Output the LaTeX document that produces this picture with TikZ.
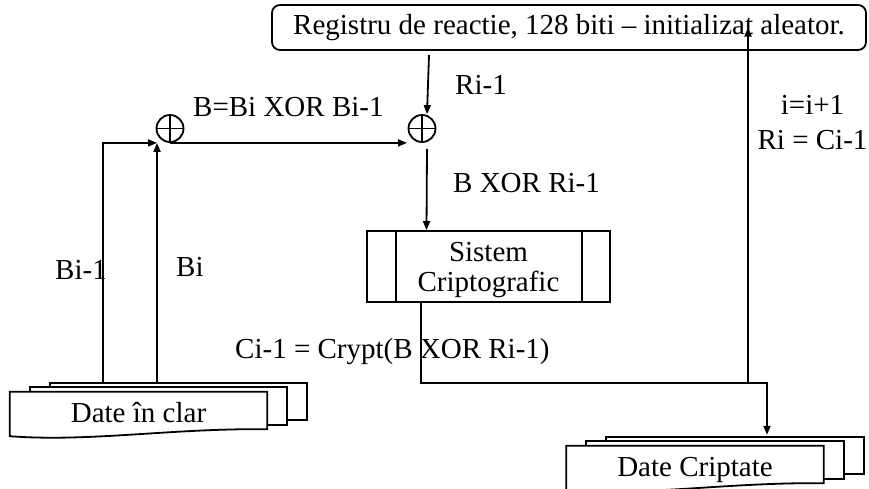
\documentclass[tikz,border=0pt]{standalone}
\usepackage{fontspec}
\setmainfont{Liberation Serif}
\usetikzlibrary{calc,arrows.meta,backgrounds}
\tikzset{
  base/.style={draw=black, line width=1.8pt},
  arr/.style={base, -{Triangle[length=9pt,width=7pt]}},
  lab/.style={font=\fontsize{29}{35}\selectfont, inner sep=0pt, anchor=base west},
  xorn/.style={circle, base, minimum size=27pt, inner sep=0pt,
    path picture={\draw[line width=1.6pt] (path picture bounding box.north) -- (path picture bounding box.south)
      (path picture bounding box.west) -- (path picture bounding box.east);}},
  regbox/.style={base, rounded corners=8pt, minimum width=594pt, minimum height=45pt,
    font=\fontsize{29}{35}\selectfont},
  sysbox/.style={base, minimum width=243pt, minimum height=71pt},
  systext/.style={align=center, inner sep=0pt, font=\fontsize{29}{30}\selectfont},
  doc/.style={minimum width=257pt, minimum height=37pt, text height=24pt, text depth=0pt,
    font=\fontsize{29}{35}\selectfont},
}

\begin{document}
\begin{tikzpicture}[x=1pt,y=-1pt]
  \useasboundingbox (0,0) rectangle (869,488);

  % boxes
  \node[regbox] (reg) at (569,27.5) {Registru de reactie, 128 biti – initializat aleator.};
  \node[xorn] (x1) at (170,128.5) {};
  \node[xorn] (x2) at (422,128.5) {};
  \node[sysbox] (sys) at (488.5,266.5) {};
  \node[systext] (systx) at ($(sys.center)+(0,4)$) {Sistem\\Criptografic};
  \draw[base] ($(sys.north west)+(30,0)$) -- ($(sys.south west)+(30,0)$);
  \draw[base] ($(sys.north east)+(-29,0)$) -- ($(sys.south east)+(-29,0)$);

  \node[doc] (plain) at (138.5,410.5) {Date în clar};
  \node[doc] (cip) at (695,464.5) {Date Criptate};

  % stacked sheets behind the text
  \begin{scope}[on background layer]
    \foreach \d in {plain,cip}{
      \draw[base, fill=white] ($(\d.north west)+(40,-9)$) rectangle ($(\d.south east)+(40,-9)$);
      \draw[base, fill=white] ($(\d.north west)+(20,-4.5)$) rectangle ($(\d.south east)+(20,-4.5)$);
      \draw[base, fill=white] (\d.north west) -- (\d.north east) -- (\d.south east)
        .. controls ($(\d.south east)+(-97,-1)$) and ($(\d.south west)+(80,13)$) .. ($(\d.south west)+(0,7)$) -- cycle;
    }
  \end{scope}

  \coordinate (bprev) at (103,383);
  \coordinate (bcur) at (157,383);
  \coordinate (ri) at (429,55);
  \coordinate (split) at (748,383);

  % data flow
  \draw[arr] (bprev) |- ($(x1.south)+(-13,0)$);
  \draw[arr] (bcur) -- ($(x1.south)+(-13,0)$);
  \draw[arr] (x1.south) -- ($(x2.south)+(-15,0)$);
  \draw[arr] (ri) -- ($(x2.north)+(5,0)$);
  \draw[arr] ($(x2.south)+(5,6)$) -- ($(sys.north)+(-62,0)$);
  \draw[base] ($(sys.south)+(-67.5,0)$) |- (split);
  \draw[arr] (split) -| ($(cip.north)+(72,-11)$);
  \draw[arr] (split) -- (split |- reg.center);

  % labels
  \node[lab] (lxor) at (193,116) {B=Bi XOR Bi-1};
  \node[lab] (lri) at (455,94) {Ri-1};
  \node[lab] (lbr) at (453,192) {B XOR Ri-1};
  \node[lab] (lprev) at (55,279) {Bi-1};
  \node[lab] (lcur) at (176,276) {Bi};
  \node[lab] (lcry) at (235,358) {Ci-1 = Crypt(B XOR Ri-1)};
  \node[lab, anchor=center, align=center] (lupd) at (812.5,122.5) {i=i+1\\Ri = Ci-1};
\end{tikzpicture}
\end{document}
